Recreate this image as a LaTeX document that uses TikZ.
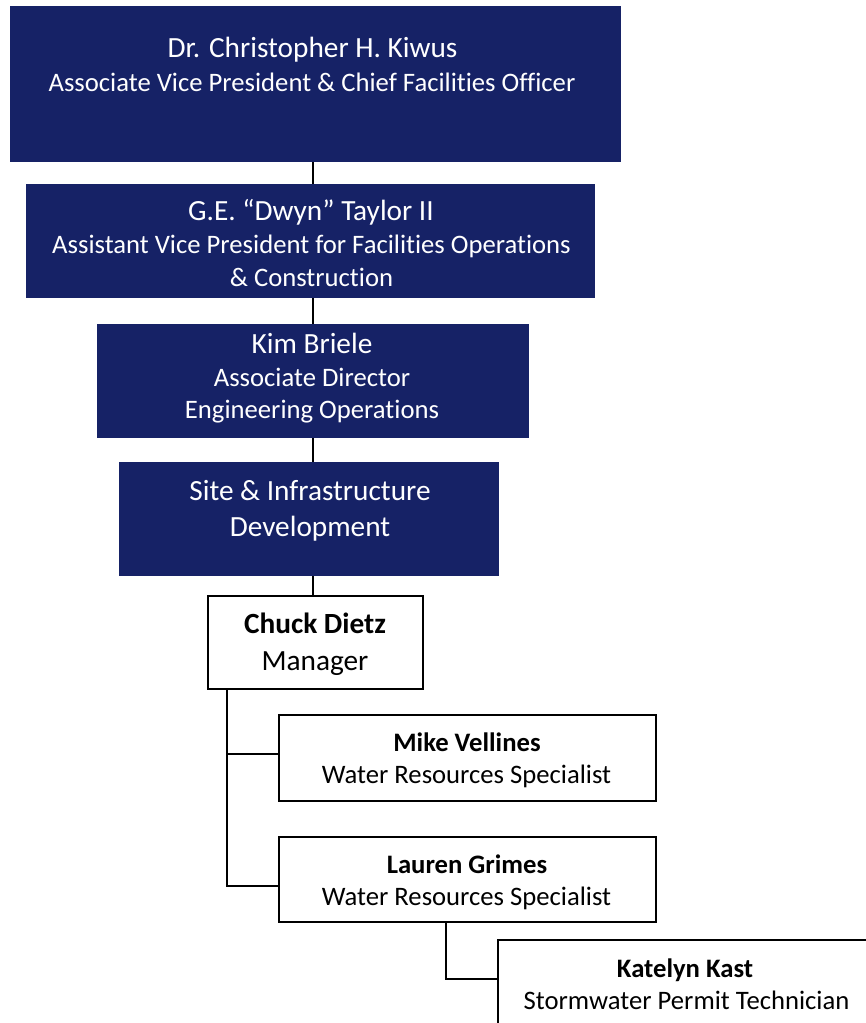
\documentclass[tikz,border=0pt]{standalone}
\usepackage{fontspec}
\setmainfont{Carlito}[Ligatures=NoCommon]
\definecolor{navy}{RGB}{22,34,102}
\newcommand\nmfont{\fontsize{29.3}{34}\selectfont}
\newcommand\tlfont{\fontsize{26.67}{32}\selectfont}
\begin{document}
\begin{tikzpicture}[x=1pt,y=-1pt,
  navybox/.style={fill=navy,draw=none,inner sep=0pt,outer sep=0pt},
  whitebox/.style={fill=white,draw=black,line width=1.5pt,inner sep=0pt,outer sep=0pt},
  wtxt/.style={anchor=base,text=white,inner sep=0pt},
  btxt/.style={anchor=base,text=black,inner sep=0pt},
  upline/.style={draw=black,line width=1.6pt},
  treeline/.style={draw=black,line width=2.4pt}]
\useasboundingbox (0,0) rectangle (866,1023);
\clip (0,0) rectangle (866,1023);
\fill[white] (0,0) rectangle (866,1023);
% spine coordinates
\coordinate (sp) at (313,0);
\coordinate (tr) at (227,0);
\coordinate (kx) at (446,0);
% boxes
\node[navybox,minimum width=611pt,minimum height=156pt] (b1) at (315.5,84) {};
\node[navybox,minimum width=569pt,minimum height=114pt] (b2) at (310.5,241) {};
\node[navybox,minimum width=432pt,minimum height=114pt] (b3) at (313,381) {};
\node[navybox,minimum width=380pt,minimum height=114pt] (b4) at (309,519) {};
\node[whitebox,minimum width=215pt,minimum height=93pt] (b5) at (315.5,642.5) {};
\node[whitebox,minimum width=377pt,minimum height=86pt] (mike) at (467.5,758) {};
\node[whitebox,minimum width=377pt,minimum height=85pt] (lauren) at (467.5,879.5) {};
\node[whitebox,minimum width=376pt,minimum height=90pt] (kat) at (686,985) {};
% connectors
\draw[upline] (b1.south -| sp) -- (b2.north -| sp);
\draw[upline] (b2.south -| sp) -- (b3.north -| sp);
\draw[upline] (b3.south -| sp) -- (b4.north -| sp);
\draw[upline] (b4.south -| sp) -- (b5.north -| sp);
\draw[treeline] (b5.south -| tr) |- ([yshift=4pt]mike.west);
\draw[treeline] (b5.south -| tr) |- ([yshift=-6.5pt]lauren.west);
\draw[treeline] (lauren.south -| kx) |- ([yshift=6pt]kat.west);
% texts
\node[wtxt] (t1a) at (312.5,57) {\nmfont Dr. Christopher H. Kiwus};
\node[wtxt] (t1b) at (312,91) {\tlfont Associate Vice President \& Chief Facilities Officer};
\node[wtxt] (t2a) at (311,220) {\nmfont G.E. “Dwyn” Taylor II};
\node[wtxt] (t2b) at (311.5,253) {\tlfont Assistant Vice President for Facilities Operations};
\node[wtxt] (t2c) at (311.5,286) {\tlfont \& Construction};
\node[wtxt] (t3a) at (312,353) {\nmfont Kim Briele};
\node[wtxt] (t3b) at (312,386) {\tlfont Associate Director};
\node[wtxt] (t3c) at (312,418) {\tlfont Engineering Operations};
\node[wtxt] (t4a) at (310,500) {\nmfont Site \& Infrastructure};
\node[wtxt] (t4b) at (310,536) {\nmfont Development};
\node[btxt] (t5a) at (315,633) {\nmfont\bfseries Chuck Dietz};
\node[btxt] (t5b) at (315,670) {\nmfont Manager};
\node[btxt] (tma) at (467,751) {\tlfont\bfseries Mike Vellines};
\node[btxt] (tmb) at (466.5,783) {\tlfont Water Resources Specialist};
\node[btxt] (tla) at (467,873) {\tlfont\bfseries Lauren Grimes};
\node[btxt] (tlb) at (466.5,905) {\tlfont Water Resources Specialist};
\node[btxt] (tka) at (685,977) {\tlfont\bfseries Katelyn Kast};
\node[btxt] (tkb) at (686.5,1009) {\tlfont Stormwater Permit Technician};
\end{tikzpicture}
\end{document}
